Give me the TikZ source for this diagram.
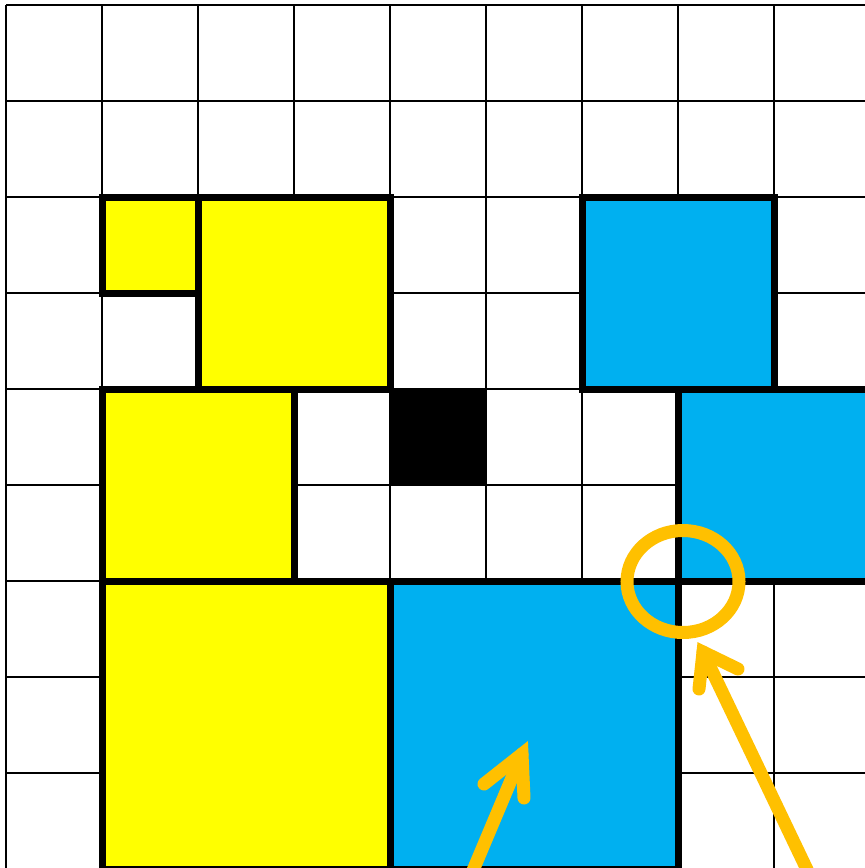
\documentclass[tikz,border=0pt]{standalone}
\definecolor{cyellow}{HTML}{FFFF00}
\definecolor{cblue}{HTML}{00B0F0}
\definecolor{corange}{HTML}{FFC000}
\begin{document}
\begin{tikzpicture}[x=1pt,y=-1pt,
  gridline/.style={line width=2pt,black},
  yelbox/.style={fill=cyellow,draw=black,line width=7pt},
  blubox/.style={fill=cblue,draw=black,line width=7pt},
  blkbox/.style={fill=black},
  hilite/.style={draw=corange,line width=13pt},
  pointer/.style={draw=corange,line width=13pt,line cap=round,line join=miter}]
\useasboundingbox (0,0) rectangle (865,868);
\clip (0,0) rectangle (865,868);
\fill[white] (0,0) rectangle (865,868);
\begin{scope}[shift={(6,5)},x=96pt,y=-96pt]
  \foreach \i in {0,...,9} \draw[gridline] (\i,0) -- (\i,9.2);
  \foreach \j in {0,...,9} \draw[gridline] (0,\j) -- (9.2,\j);
  \filldraw[yelbox] (1,2) rectangle (2,3);
  \filldraw[yelbox] (2,2) rectangle (4,4);
  \filldraw[yelbox] (1,4) rectangle (3,6);
  \filldraw[yelbox] (1,6) rectangle (4,9);
  \fill[blkbox] (4,4) rectangle (5,5);
  \filldraw[blubox] (6,2) rectangle (8,4);
  \filldraw[blubox] (7,4) rectangle (9,6);
  \filldraw[blubox] (4,6) rectangle (7,9);
\end{scope}
\draw[hilite] (683,581.5) ellipse [x radius=56, y radius=51];
% arrow 1
\coordinate (a1tail) at (469,880);
\coordinate (a1tip) at (522,754);
\coordinate (a1l) at (484,784);
\coordinate (a1r) at (524,798);
\draw[pointer] (a1tail) -- (a1tip);
\draw[pointer] (a1l) -- (a1tip) -- (a1r);
% arrow 2
\coordinate (a2tail) at (812,880);
\coordinate (a2tip) at (703,652);
\coordinate (a2l) at (699,689);
\coordinate (a2r) at (738,669);
\draw[pointer] (a2tail) -- (a2tip);
\draw[pointer] (a2l) -- (a2tip) -- (a2r);
\end{tikzpicture}
\end{document}
